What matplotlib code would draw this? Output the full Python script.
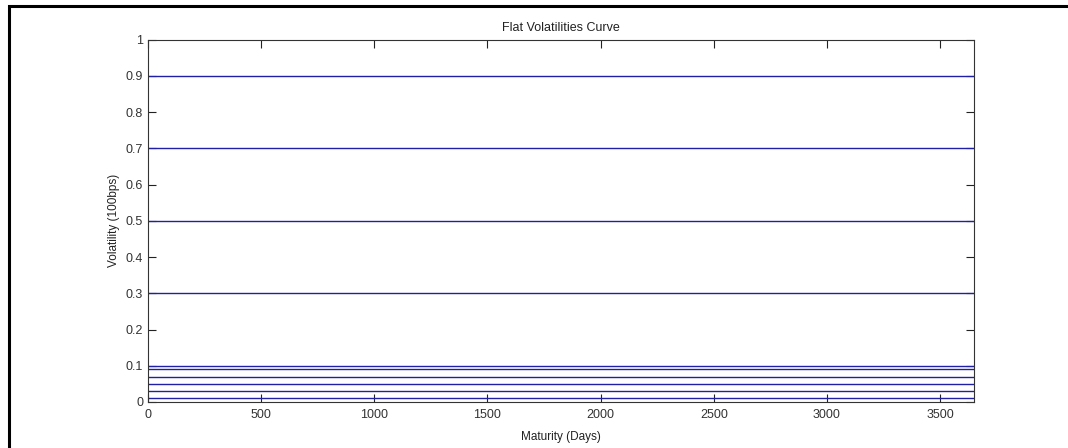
import matplotlib
matplotlib.use("Agg")
import matplotlib.pyplot as plt
from matplotlib.patches import Rectangle

# flat vol levels (100bps), each held constant across maturity
vol_levels = [0.01, 0.03, 0.05, 0.07, 0.09, 0.1, 0.3, 0.5, 0.7, 0.9]
maturity_days = [0, 3650]
x_ticks = [0, 500, 1000, 1500, 2000, 2500, 3000, 3500]
y_ticks = [0, 0.1, 0.2, 0.3, 0.4, 0.5, 0.6, 0.7, 0.8, 0.9, 1]
y_labels = ["0", "0.1", "0.2", "0.3", "0.4", "0.5", "0.6", "0.7", "0.8", "0.9", "1"]

plt.rcParams.update({
    "font.family": ["Liberation Sans", "DejaVu Sans"],
    "font.size": 8.5,
    "xtick.labelsize": 9, "ytick.labelsize": 9,
    "xtick.direction": "in", "ytick.direction": "in",
    "xtick.top": True, "ytick.right": True,
    "xtick.major.size": 5.8, "ytick.major.size": 5.8,
    "axes.linewidth": 0.8,
})

fig = plt.figure(figsize=(10.68, 4.48), dpi=100)
ax = fig.add_axes([0.1386, 0.1027, 0.7734, 0.8087])

for v in vol_levels:
    ax.plot(maturity_days, [v, v], color="#1f1fa8", lw=1.0)

ax.set_xlim(0, 3650)
ax.set_ylim(0, 1)
ax.set_xticks(x_ticks)
ax.set_xticklabels([str(t) for t in x_ticks])
ax.set_yticks(y_ticks)
ax.set_yticklabels(y_labels)
ax.tick_params(axis="x", pad=5)
ax.tick_params(colors="#222222", labelcolor="#333333")
for s in ax.spines.values():
    s.set_color("#333333")

ax.set_title("Flat Volatilities Curve", fontsize=9, color="#222222", pad=6)
ax.set_xlabel("Maturity (Days)", color="#222222", labelpad=7)
ax.set_ylabel("Volatility (100bps)", color="#222222", labelpad=4)

# outer frame of the exported figure (cropped at right and bottom)
fig.patches.append(Rectangle((9 / 1068, -0.1), 1.2, 1.1 - 5.7 / 448,
                             transform=fig.transFigure, fill=False,
                             edgecolor="black", lw=2.2))

fig.savefig("out.png", dpi=100)
